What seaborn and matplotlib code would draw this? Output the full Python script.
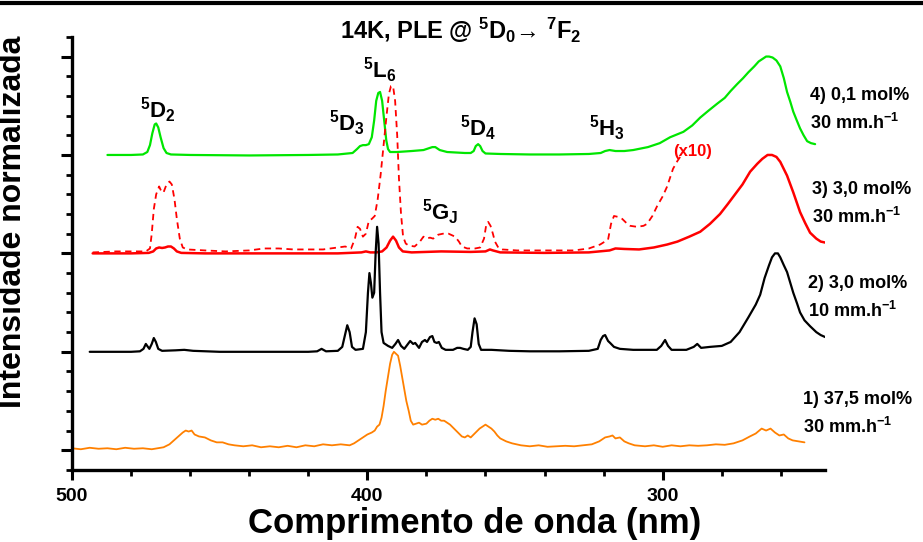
import matplotlib
matplotlib.use("Agg")
import matplotlib.pyplot as plt
from matplotlib.lines import Line2D
from matplotlib.ticker import MultipleLocator
import seaborn as sns

# ---------------- data ----------------
# wavelength (nm) and normalized intensity for each spectrum (relative to its own baseline)
green_wl = [488.0, 480.0, 476.0, 474.5, 473.6, 472.8, 472.0, 471.5, 470.8, 470.0, 469.0, 468.0, 466.5,
            460.0, 440.0, 420.0, 410.0, 405.0, 403.5, 402.5, 401.5, 400.5, 399.5, 398.5, 397.7, 397.0,
            396.3, 395.7, 395.0, 394.3, 393.6, 393.0, 392.3, 390.0, 385.0, 381.0, 379.0, 378.0, 377.0,
            375.5, 373.0, 370.0, 367.0, 365.0, 364.0, 363.3, 362.5, 361.8, 361.0, 360.0, 355.0, 345.0,
            335.0, 325.0, 321.0, 319.5, 318.0, 316.0, 313.0, 310.0, 305.0, 301.0, 297.5, 293.0, 290.0,
            287.3, 284.5, 281.6, 279.0, 277.0, 274.8, 272.8, 271.0, 269.0, 267.5, 266.0, 265.0, 264.0,
            262.8, 261.5, 260.2, 259.0, 257.9, 256.8, 255.8, 254.6, 253.5, 252.3, 251.1, 249.8, 248.4]
green_val = [0.00, 0.00, 0.005, 0.03, 0.10, 0.22, 0.31, 0.32, 0.28, 0.18, 0.07, 0.02, 0.005,
             0.00, -0.005, 0.00, 0.005, 0.02, 0.06, 0.09, 0.10, 0.10, 0.11, 0.18, 0.35, 0.55,
             0.63, 0.64, 0.55, 0.35, 0.15, 0.06, 0.03, 0.03, 0.04, 0.05, 0.07, 0.08, 0.08,
             0.05, 0.03, 0.025, 0.02, 0.02, 0.04, 0.09, 0.11, 0.09, 0.04, 0.015, 0.01, 0.005,
             0.005, 0.01, 0.02, 0.04, 0.05, 0.04, 0.04, 0.05, 0.08, 0.12, 0.18, 0.235, 0.30,
             0.38, 0.45, 0.52, 0.58, 0.65, 0.72, 0.78, 0.84, 0.90, 0.95, 0.98, 1.00, 1.00,
             0.99, 0.96, 0.90, 0.78, 0.64, 0.54, 0.44, 0.35, 0.27, 0.20, 0.14, 0.12, 0.11]

red_wl = [493.0, 480.0, 474.0, 472.5, 471.5, 470.5, 469.5, 468.5, 467.5, 466.5, 465.5, 464.5, 463.0,
          455.0, 430.0, 410.0, 402.0, 400.5, 399.0, 397.0, 395.0, 393.5, 392.3, 391.3, 390.3, 389.3,
          388.0, 385.0, 375.0, 365.0, 360.0, 358.5, 357.5, 355.0, 340.0, 325.0, 318.0, 316.0, 313.0,
          308.0, 303.0, 298.5, 295.0, 291.0, 287.3, 284.0, 280.6, 278.0, 276.0, 273.0, 270.4, 268.0,
          266.3, 264.5, 263.0, 261.5, 260.2, 257.9, 255.8, 253.5, 251.8, 250.1, 248.0, 246.5, 245.0]
red_val = [0.00, 0.00, 0.005, 0.02, 0.05, 0.06, 0.055, 0.06, 0.07, 0.07, 0.05, 0.02, 0.005,
           0.00, 0.00, 0.00, 0.01, 0.02, 0.01, 0.01, 0.02, 0.06, 0.13, 0.17, 0.13, 0.06,
           0.02, 0.01, 0.02, 0.015, 0.02, 0.04, 0.03, 0.01, 0.005, 0.01, 0.03, 0.05, 0.045,
           0.04, 0.06, 0.09, 0.12, 0.17, 0.22, 0.30, 0.40, 0.50, 0.58, 0.70, 0.83, 0.91,
           0.96, 1.00, 1.00, 0.98, 0.93, 0.79, 0.62, 0.42, 0.31, 0.21, 0.15, 0.12, 0.11]

redx10_wl = [493.0, 485.0, 478.0, 475.0, 473.6, 473.0, 472.3, 471.5, 470.5, 469.6, 469.0, 468.0, 467.0,
             466.2, 465.3, 464.5, 463.5, 462.5, 461.0, 455.0, 448.0, 440.0, 435.0, 430.0, 425.0, 415.0,
             410.0, 407.5, 405.5, 404.2, 403.3, 402.5, 401.5, 400.5, 399.5, 398.5, 397.5, 396.5, 395.5,
             394.5, 393.5, 392.7, 392.0, 391.3, 390.6, 389.9, 389.3, 388.6, 387.9, 387.0, 386.0, 384.0,
             382.2, 381.0, 380.0, 378.8, 377.7, 376.0, 374.4, 372.5, 370.3, 369.0, 368.0, 366.2, 363.5,
             361.8, 360.5, 359.8, 359.1, 358.3, 357.5, 356.8, 355.5, 354.4, 349.3, 340.0, 330.0, 325.0,
             321.2, 318.5, 317.5, 316.5, 315.0, 313.7, 312.0, 311.0, 308.7, 306.5, 305.3, 303.5, 301.9,
             300.0, 298.5, 296.5, 295.0, 294.1]
redx10_val = [0.01, 0.02, 0.02, 0.02, 0.05, 0.20, 0.45, 0.60, 0.68, 0.62, 0.62, 0.70, 0.73,
              0.70, 0.55, 0.35, 0.15, 0.06, 0.04, 0.03, 0.02, 0.03, 0.05, 0.05, 0.04, 0.04,
              0.06, 0.07, 0.05, 0.15, 0.27, 0.25, 0.17, 0.20, 0.33, 0.35, 0.38, 0.55, 0.80,
              1.10, 1.40, 1.62, 1.70, 1.70, 1.55, 1.20, 0.76, 0.40, 0.17, 0.10, 0.08, 0.07,
              0.12, 0.17, 0.15, 0.16, 0.15, 0.19, 0.20, 0.20, 0.17, 0.12, 0.07, 0.05, 0.05,
              0.06, 0.15, 0.28, 0.32, 0.28, 0.20, 0.12, 0.05, 0.04, 0.03, 0.03, 0.03, 0.05,
              0.09, 0.14, 0.30, 0.38, 0.37, 0.35, 0.30, 0.28, 0.27, 0.28, 0.30, 0.38, 0.48,
              0.58, 0.68, 0.86, 0.94, 0.98]

black_wl = [494.0, 480.0, 477.0, 475.8, 475.0, 474.3, 473.8, 473.0, 472.3, 471.6, 470.8, 469.5, 465.0,
            462.0, 459.0, 450.0, 420.0, 417.0, 415.5, 414.0, 410.0, 408.5, 407.5, 406.8, 406.0, 405.2,
            404.0, 401.5, 400.5, 399.8, 399.3, 398.8, 398.3, 397.7, 397.2, 396.7, 396.2, 395.7, 395.2,
            394.5, 393.0, 391.6, 390.5, 389.6, 388.6, 387.5, 386.5, 385.5, 384.5, 383.8, 382.5, 381.5,
            380.5, 379.8, 378.8, 378.0, 377.3, 376.5, 375.8, 374.8, 373.5, 371.0, 369.6, 368.6, 367.5,
            366.0, 365.0, 364.4, 363.7, 363.0, 362.3, 361.5, 358.0, 352.0, 345.0, 335.0, 325.0, 322.0,
            321.0, 320.2, 319.5, 318.5, 317.8, 316.5, 314.5, 310.0, 302.0, 300.5, 299.2, 298.2, 297.0,
            292.0, 289.5, 288.3, 287.0, 284.0, 280.0, 277.0, 274.0, 271.0, 268.5, 267.0, 265.5, 264.0,
            263.0, 262.0, 261.0, 260.2, 259.0, 257.9, 256.8, 255.8, 254.5, 253.5, 252.0, 250.1, 248.0,
            246.5, 245.0]
black_val = [0.00, 0.00, 0.005, 0.03, 0.08, 0.05, 0.03, 0.08, 0.14, 0.10, 0.03, 0.01, 0.015,
             0.02, 0.01, 0.00, 0.00, 0.005, 0.03, 0.005, 0.01, 0.05, 0.18, 0.27, 0.20, 0.05,
             0.02, 0.03, 0.20, 0.60, 0.80, 0.70, 0.55, 0.60, 1.00, 1.27, 1.10, 0.60, 0.20,
             0.09, 0.06, 0.04, 0.08, 0.12, 0.06, 0.03, 0.07, 0.11, 0.08, 0.09, 0.04, 0.10,
             0.12, 0.10, 0.15, 0.16, 0.10, 0.09, 0.10, 0.04, 0.02, 0.02, 0.04, 0.04, 0.03,
             0.02, 0.05, 0.20, 0.34, 0.28, 0.08, 0.02, 0.02, 0.01, 0.005, 0.005, 0.01, 0.03,
             0.12, 0.16, 0.17, 0.11, 0.09, 0.05, 0.03, 0.02, 0.02, 0.06, 0.12, 0.06, 0.02,
             0.02, 0.05, 0.08, 0.04, 0.05, 0.06, 0.10, 0.20, 0.35, 0.48, 0.58, 0.75, 0.88,
             0.96, 1.00, 1.00, 0.96, 0.88, 0.81, 0.70, 0.60, 0.49, 0.40, 0.32, 0.26, 0.20,
             0.17, 0.15]

orange_wl = [500.0, 497.0, 494.0, 491.0, 488.0, 485.0, 482.0, 479.0, 476.0, 473.0, 471.0, 469.0, 467.0,
             465.5, 464.0, 462.5, 461.5, 460.5, 459.5, 458.5, 457.0, 455.0, 453.0, 451.0, 449.0, 447.0,
             445.0, 442.0, 439.0, 436.0, 433.0, 430.0, 427.0, 424.0, 421.0, 418.0, 415.0, 412.0, 409.0,
             406.0, 404.5, 403.0, 401.5, 400.0, 398.5, 397.5, 396.7, 395.9, 395.2, 394.5, 393.8, 393.0,
             392.3, 391.6, 391.0, 390.3, 389.6, 388.9, 388.2, 387.5, 386.8, 386.0, 385.3, 384.5, 383.5,
             382.5, 381.5, 380.0, 379.0, 378.0, 377.0, 376.0, 375.0, 374.0, 373.0, 372.0, 371.0, 370.0,
             369.0, 368.0, 367.0, 366.0, 365.0, 364.0, 363.0, 362.0, 361.0, 360.0, 359.0, 358.0, 357.0,
             356.0, 355.0, 353.0, 351.0, 348.0, 345.0, 342.0, 339.0, 336.0, 333.0, 330.0, 327.0, 324.0,
             321.5, 319.5, 318.0, 317.0, 316.0, 314.5, 313.0, 311.5, 309.5, 306.0, 303.0, 300.0, 297.0,
             294.0, 291.0, 288.0, 285.0, 282.0, 279.0, 276.0, 273.0, 270.5, 268.5, 266.5, 265.0, 263.5,
             262.0, 260.5, 259.0, 257.5, 256.0, 254.0, 252.0]
orange_val = [0.02, 0.01, 0.025, 0.015, 0.02, 0.01, 0.025, 0.015, 0.02, 0.01, 0.02, 0.03, 0.06,
              0.10, 0.14, 0.18, 0.20, 0.19, 0.20, 0.16, 0.14, 0.13, 0.10, 0.08, 0.08, 0.06,
              0.05, 0.04, 0.05, 0.03, 0.04, 0.03, 0.045, 0.03, 0.05, 0.04, 0.06, 0.05, 0.06,
              0.05, 0.07, 0.10, 0.13, 0.16, 0.18, 0.20, 0.24, 0.26, 0.33, 0.45, 0.60, 0.75,
              0.88, 0.97, 1.00, 0.98, 0.96, 0.86, 0.74, 0.62, 0.50, 0.40, 0.30, 0.26, 0.27,
              0.28, 0.26, 0.27, 0.30, 0.32, 0.31, 0.32, 0.30, 0.30, 0.28, 0.26, 0.23, 0.20,
              0.17, 0.14, 0.13, 0.15, 0.13, 0.16, 0.19, 0.22, 0.24, 0.26, 0.24, 0.22, 0.19,
              0.15, 0.12, 0.09, 0.07, 0.05, 0.04, 0.05, 0.035, 0.04, 0.045, 0.04, 0.05, 0.06,
              0.09, 0.13, 0.14, 0.15, 0.12, 0.13, 0.09, 0.07, 0.05, 0.04, 0.05, 0.035, 0.05,
              0.04, 0.05, 0.045, 0.05, 0.06, 0.055, 0.07, 0.10, 0.14, 0.17, 0.22, 0.20, 0.22,
              0.18, 0.15, 0.16, 0.12, 0.10, 0.09, 0.08]

offsets = {"green": 3, "red": 2, "black": 1, "orange": 0}

series_labels = ["4) 0,1 mol%\n30 mm.h$^{\\mathbf{-1}}$",
                 "3) 3,0 mol%\n30 mm.h$^{\\mathbf{-1}}$",
                 "2) 3,0 mol%\n10 mm.h$^{\\mathbf{-1}}$",
                 "1) 37,5 mol%\n30 mm.h$^{\\mathbf{-1}}$"]
band_labels = [r"$\mathbf{^{5}D_{2}}$", r"$\mathbf{^{5}D_{3}}$", r"$\mathbf{^{5}L_{6}}$",
               r"$\mathbf{^{5}D_{4}}$", r"$\mathbf{^{5}H_{3}}$", r"$\mathbf{^{5}G_{J}}$"]
band_wl = [470.9, 406.9, 395.7, 362.5, 318.8, 375.4]
band_y = [3.45, 3.32, 3.86, 3.27, 3.27, 2.42]
x_ticks = [500, 400, 300]

# ---------------- style ----------------
sns.set_style("ticks")
plt.rcParams["font.family"] = ["Liberation Sans", "DejaVu Sans"]
plt.rcParams["font.weight"] = "bold"
plt.rcParams["mathtext.fontset"] = "custom"
plt.rcParams["mathtext.rm"] = "Liberation Sans:bold"
plt.rcParams["mathtext.bf"] = "Liberation Sans:bold"
plt.rcParams["mathtext.it"] = "Liberation Sans:bold"
for key in ["text.color", "axes.labelcolor", "xtick.color", "ytick.color", "axes.edgecolor"]:
    plt.rcParams[key] = "black"

fig = plt.figure(figsize=(9.23, 5.42), dpi=100)
ax = fig.add_axes([0.078, 0.133, 0.816, 0.799])

GREEN = "#00e600"
RED = "#ff0000"
ORANGE = "#ff8000"

sns.lineplot(x=green_wl, y=[v + offsets["green"] for v in green_val], ax=ax, color=GREEN,
             lw=1.6, sort=False, estimator=None)
sns.lineplot(x=redx10_wl, y=[v + offsets["red"] for v in redx10_val], ax=ax, color=RED,
             lw=1.3, sort=False, estimator=None, linestyle=(0, (3.5, 2.5)))
sns.lineplot(x=red_wl, y=[v + offsets["red"] for v in red_val], ax=ax, color=RED,
             lw=1.8, sort=False, estimator=None)
sns.lineplot(x=black_wl, y=[v + offsets["black"] for v in black_val], ax=ax, color="black",
             lw=1.6, sort=False, estimator=None)
sns.lineplot(x=orange_wl, y=[v + offsets["orange"] for v in orange_val], ax=ax, color=ORANGE,
             lw=1.3, sort=False, estimator=None)

ax.set_xlim(500, 245)
ax.set_ylim(-0.2, 4.2)

for s in ["top", "right"]:
    ax.spines[s].set_visible(False)
for s in ["left", "bottom"]:
    ax.spines[s].set_linewidth(2.4)
    ax.spines[s].set_color("black")

ax.set_xticks(x_ticks)
ax.set_xticklabels([str(t) for t in x_ticks], fontsize=14, fontweight="bold", color="black")
ax.xaxis.set_minor_locator(MultipleLocator(20))
ax.yaxis.set_major_locator(MultipleLocator(1))
ax.yaxis.set_minor_locator(MultipleLocator(0.2))
ax.set_yticklabels([])
ax.tick_params(axis="x", which="major", length=7, width=2.2, direction="out", pad=6, color="black")
ax.tick_params(axis="x", which="minor", length=4, width=2.0, direction="out", color="black")
ax.tick_params(axis="y", which="major", length=8, width=2.2, direction="out", color="black")
ax.tick_params(axis="y", which="minor", length=4, width=2.0, direction="out", color="black")

ax.set_xlabel("")
fig.text(475 / 923, 1 - 523 / 542, "Comprimento de onda (nm)", fontsize=25, fontweight="bold",
         ha="center", va="center", color="black")
ax.set_ylabel("Intensidade normalizada", fontsize=23, fontweight="bold", color="black")
ax.yaxis.set_label_coords(-0.058, 0.573)

for lab, xw, yv in zip(band_labels, band_wl, band_y):
    ax.text(xw, yv, lab, fontsize=16, ha="center", va="center", color="black")

ax.text(290.0, 3.04, "(x10)", fontsize=12, fontweight="bold", color=RED, ha="center", va="center")

label_pos = [(810, 110), (812, 204), (808, 298), (803, 414)]
for lab, (px, py) in zip(series_labels, label_pos):
    fig.text(px / 923, 1 - py / 542, lab, fontsize=13, fontweight="bold", ha="left", va="center",
             linespacing=1.55, color="black")

fig.text(461 / 923, 1 - 30 / 542,
         "14K, PLE @ $\\mathbf{^{5}D_{0}}$\u2192 $\\mathbf{^{7}F_{2}}$",
         fontsize=17, fontweight="bold", ha="center", va="center", color="black")

fig.add_artist(Line2D([0, 1], [0.995, 0.995], transform=fig.transFigure, color="black", lw=3))

fig.savefig("out.png", dpi=100)
